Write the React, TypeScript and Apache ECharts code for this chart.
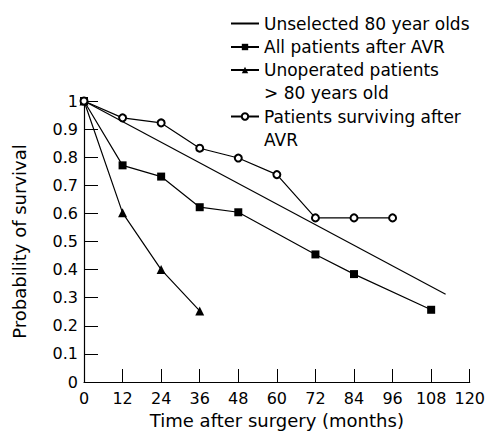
import React, { useEffect, useRef } from "react";
import * as echarts from "echarts";

const xTicks = [0, 12, 24, 36, 48, 60, 72, 84, 96, 108, 120];

const unselectedName = "Unselected 80 year olds";
const unselected: [number, number][] = [
  [0, 1],
  [112.5, 0.312],
];

const allAvrName = "All patients after AVR";
const allAvr: [number, number][] = [
  [0, 1],
  [12, 0.771],
  [24, 0.731],
  [36, 0.622],
  [48, 0.604],
  [72, 0.454],
  [84, 0.384],
  [108, 0.257],
];

const unoperatedName = "Unoperated patients\n> 80 years old";
const unoperated: [number, number][] = [
  [0, 1],
  [12, 0.602],
  [24, 0.4],
  [36, 0.253],
];

const survivingName = "Patients surviving after\nAVR";
const surviving: [number, number][] = [
  [0, 1],
  [12, 0.94],
  [24, 0.922],
  [36, 0.832],
  [48, 0.797],
  [60, 0.738],
  [72, 0.584],
  [84, 0.584],
  [96, 0.584],
];

const FONT = "DejaVu Sans";

export default function App() {
  const ref = useRef<HTMLDivElement>(null);
  useEffect(() => {
    if (!ref.current) return;
    const chart = echarts.init(ref.current, undefined, { renderer: "svg" });
    const lineStyle = { color: "#000", width: 1.2 };
    const legendBase = {
      orient: "vertical" as const,
      left: 230,
      padding: 0,
      itemWidth: 28,
      itemHeight: 8,
      selectedMode: false,
    };
    const legendText = { fontFamily: FONT, fontSize: 17, color: "#000", lineHeight: 23 };
    const leadBlank = (name: string) => "\n" + name;
    chart.setOption({
      animation: false,
      backgroundColor: "#fff",
      grid: { left: 84, right: 17, top: 101, bottom: 50 },
      legend: [
        {
          ...legendBase,
          top: 12,
          data: [unselectedName],
          textStyle: legendText,
          itemStyle: { opacity: 0 },
        },
        { ...legendBase, top: 35.5, data: [allAvrName], textStyle: legendText },
        {
          ...legendBase,
          top: 35.5,
          data: [unoperatedName],
          textStyle: legendText,
          formatter: leadBlank,
        },
        {
          ...legendBase,
          top: 82,
          data: [survivingName],
          textStyle: legendText,
          formatter: leadBlank,
        },
      ],
      xAxis: {
        type: "value",
        min: 0,
        max: 120,
        interval: 12,
        name: "Time after surgery (months)",
        nameLocation: "middle",
        nameGap: 29,
        nameTextStyle: { fontFamily: FONT, fontSize: 18, color: "#000" },
        axisLine: { show: true, lineStyle: { color: "#000", width: 1.2 } },
        axisTick: { show: true, inside: true, length: 13, lineStyle: { color: "#000", width: 1 } },
        axisLabel: {
          show: true,
          margin: 8,
          fontFamily: FONT,
          fontSize: 16,
          color: "#000",
          customValues: xTicks,
        },
        splitLine: { show: false },
      },
      yAxis: {
        type: "value",
        min: 0,
        max: 1,
        interval: 0.1,
        name: "Probability of survival",
        nameLocation: "middle",
        nameGap: 56,
        nameTextStyle: { fontFamily: FONT, fontSize: 18, color: "#000" },
        axisLine: { show: true, lineStyle: { color: "#000", width: 1.2 } },
        axisTick: { show: true, inside: true, length: 14, lineStyle: { color: "#000", width: 1 } },
        axisLabel: {
          margin: 6,
          fontFamily: FONT,
          fontSize: 16,
          color: "#000",
          formatter: (v: number) => String(Math.round(v * 10) / 10),
        },
        splitLine: { show: false },
      },
      series: [
        {
          name: unselectedName,
          type: "line",
          data: unselected,
          symbol: "none",
          lineStyle,
          itemStyle: { color: "#000" },
        },
        {
          name: allAvrName,
          type: "line",
          data: allAvr,
          symbol: "rect",
          symbolSize: 8,
          lineStyle,
          itemStyle: { color: "#000" },
        },
        {
          name: unoperatedName,
          type: "line",
          data: unoperated,
          symbol: "triangle",
          symbolSize: 9,
          lineStyle,
          itemStyle: { color: "#000" },
        },
        {
          name: survivingName,
          type: "line",
          data: surviving,
          symbol: "emptyCircle",
          symbolSize: 7,
          lineStyle,
          itemStyle: { color: "#000", borderColor: "#000", borderWidth: 1 },
        },
      ],
    });
    return () => chart.dispose();
  }, []);
  return (
    <div
      ref={ref}
      style={{ position: "absolute", left: 0, top: 0, width: 488, height: 434 }}
    />
  );
}
